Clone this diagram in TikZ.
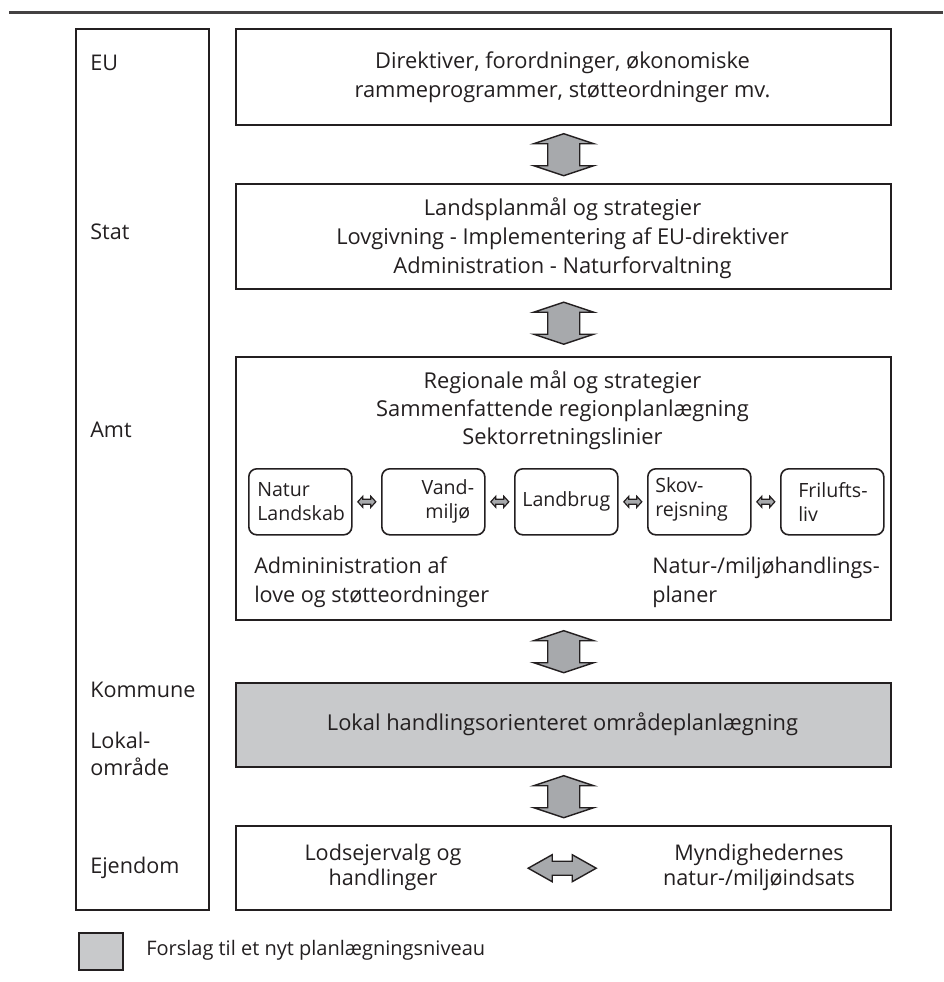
\documentclass[tikz,border=0pt]{standalone}
\usepackage{fontspec}
\setmainfont{Open Sans}
\usetikzlibrary{calc}
\definecolor{ink}{HTML}{231F20}
\definecolor{boxgray}{HTML}{C8C9CB}
\definecolor{arrowgray}{HTML}{A7A9AC}
\newcommand\vda[2]{\draw[bigarrow] ($(#1.south)!0.5!(#2.north)+(0,-21)$) -- ++(30,10) -- ++(-14,0) -- ++(0,22) -- ++(14,0) -- ++(-30,10) -- ++(-30,-10) -- ++(14,0) -- ++(0,-22) -- ++(-14,0) -- cycle;}
\newcommand\hda[2]{\draw[smallarrow] ($(#1.east)!0.5!(#2.west)+(-9,0)$) -- ++(5,-5.5) -- ++(0,3) -- ++(8,0) -- ++(0,-3) -- ++(5,5.5) -- ++(-5,5.5) -- ++(0,-3) -- ++(-8,0) -- ++(0,3) -- cycle;}
\begin{document}
\begin{tikzpicture}[x=0.75pt,y=-0.75pt,
  frame/.style={draw=ink, line width=2.4*0.75pt, inner sep=0pt, anchor=north west},
  smallbox/.style={draw=ink, line width=1.6*0.75pt, rounded corners=6pt, inner sep=0pt, anchor=north west, minimum width=103*0.75pt, minimum height=66*0.75pt},
  bigarrow/.style={draw=ink, fill=arrowgray, line width=1.4*0.75pt, line join=miter},
  smallarrow/.style={draw=ink, fill=arrowgray, line width=1.2*0.75pt},
  maintxt/.style={text=ink, inner sep=0pt, font=\fontsize{16.4}{21.75}\selectfont},
  smalltxt/.style={text=ink, inner sep=0pt, font=\fontsize{14.7}{18}\selectfont},
  labeltxt/.style={text=ink, inner sep=0pt, anchor=west, align=left, font=\fontsize{16.2}{20}\selectfont},
  legendtxt/.style={text=ink, inner sep=0pt, anchor=west, font=\fontsize{15}{16}\selectfont}
]
\useasboundingbox (0,0) rectangle (943,982);
% top rule
\draw[line width=3*0.75pt, ink!85] (9,12) -- (943,12);
% left column
\node[frame, minimum width=133*0.75pt, minimum height=881*0.75pt] (lcol) at (75,28) {};
\node[labeltxt] (lEU) at (90,63) {EU};
\node[labeltxt] (lStat) at (90,232) {Stat};
\node[labeltxt] (lAmt) at (90,430) {Amt};
\node[labeltxt] (lKom) at (90,690) {Kommune};
\node[labeltxt, align=left, font=\fontsize{16.2}{20.25}\selectfont] (lLok) at (90,753.5) {Lokal-\\område};
\node[labeltxt] (lEj) at (90,868) {Ejendom};
% main boxes
\node[frame, minimum width=655*0.75pt, minimum height=96*0.75pt] (eu) at (235,28) {};
\node[frame, minimum width=655*0.75pt, minimum height=105*0.75pt] (stat) at (235,183) {};
\node[frame, minimum width=655*0.75pt, minimum height=263*0.75pt] (amt) at (235,356) {};
\node[frame, fill=boxgray, minimum width=655*0.75pt, minimum height=84*0.75pt] (kom) at (235,682) {};
\node[frame, minimum width=655*0.75pt, minimum height=84*0.75pt] (ej) at (235,825) {};
% texts
\node[maintxt, align=center, font=\fontsize{16.4}{21.75}\selectfont] (eut) at (562.5,77.5) {Direktiver, forordninger, økonomiske\\rammeprogrammer, støtteordninger mv.};
\node[maintxt, align=center, font=\fontsize{16.4}{21.75}\selectfont] (statt) at (562.5,238) {Landsplanmål og strategier\\Lovgivning - Implementering af EU-direktiver\\Administration - Naturforvaltning};
\node[maintxt, align=center, font=\fontsize{16.4}{21}\selectfont] (amtt) at (562.5,410) {Regionale mål og strategier\\Sammenfattende regionplanlægning\\Sektorretningslinier};
\node[maintxt, anchor=west, align=left, font=\fontsize{16.2}{21.75}\selectfont] (amtl) at (254,582.5) {Admininistration af\\love og støtteordninger};
\node[maintxt, anchor=west, align=left, font=\fontsize{16.2}{21.75}\selectfont] (amtr) at (652,582.5) {Natur-/miljøhandlings-\\planer};
\node[maintxt] (komt) at (562.5,724) {Lokal handlingsorienteret områdeplanlægning};
\node[maintxt, align=center, font=\fontsize{16.2}{18.75}\selectfont] (ejl) at (383,867) {Lodsejervalg og\\handlinger};
\node[maintxt, align=center, font=\fontsize{16.2}{18.75}\selectfont] (ejr) at (759,867) {Myndighedernes\\natur-/miljøindsats};
% small boxes
\node[smallbox] (s1) at (248,468) {};
\node[smallbox] (s2) at (381,468) {};
\node[smallbox] (s3) at (514,468) {};
\node[smallbox] (s4) at (647,468) {};
\node[smallbox] (s5) at (780,468) {};
\node[smalltxt, anchor=west, align=left] (t1) at ($(s1.west)+(9,0)$) {Natur\\Landskab};
\node[smalltxt, align=center] (t2) at ($(s2.center)+(14.5,0)$) {Vand-\\miljø};
\node[smalltxt] (t3) at (s3.center) {Landbrug};
\node[smalltxt, anchor=west, align=left] (t4) at ($(s4.west)+(8,-2)$) {Skov-\\rejsning};
\node[smalltxt, anchor=west, align=left] (t5) at ($(s5.west)+(18,0)$) {Frilufts-\\liv};
\hda{s1}{s2}
\hda{s2}{s3}
\hda{s3}{s4}
\hda{s4}{s5}
% vertical block arrows
\vda{eu}{stat}
\vda{stat}{amt}
\vda{amt}{kom}
\vda{kom}{ej}
% horizontal block arrow
\draw[bigarrow] ($(ej.center)+(-35.5,0)$) -- ++(24,-13.5) -- ++(0,6.5) -- ++(20,0) -- ++(0,-6.5) -- ++(24,13.5) -- ++(-24,13.5) -- ++(0,-6.5) -- ++(-20,0) -- ++(0,6.5) -- cycle;
% legend
\node[frame, fill=boxgray, line width=2*0.75pt, minimum width=44*0.75pt, minimum height=37*0.75pt] (leg) at (78,932) {};
\node[legendtxt] (legt) at (146,950) {Forslag til et nyt planlægningsniveau};
\end{tikzpicture}
\end{document}
